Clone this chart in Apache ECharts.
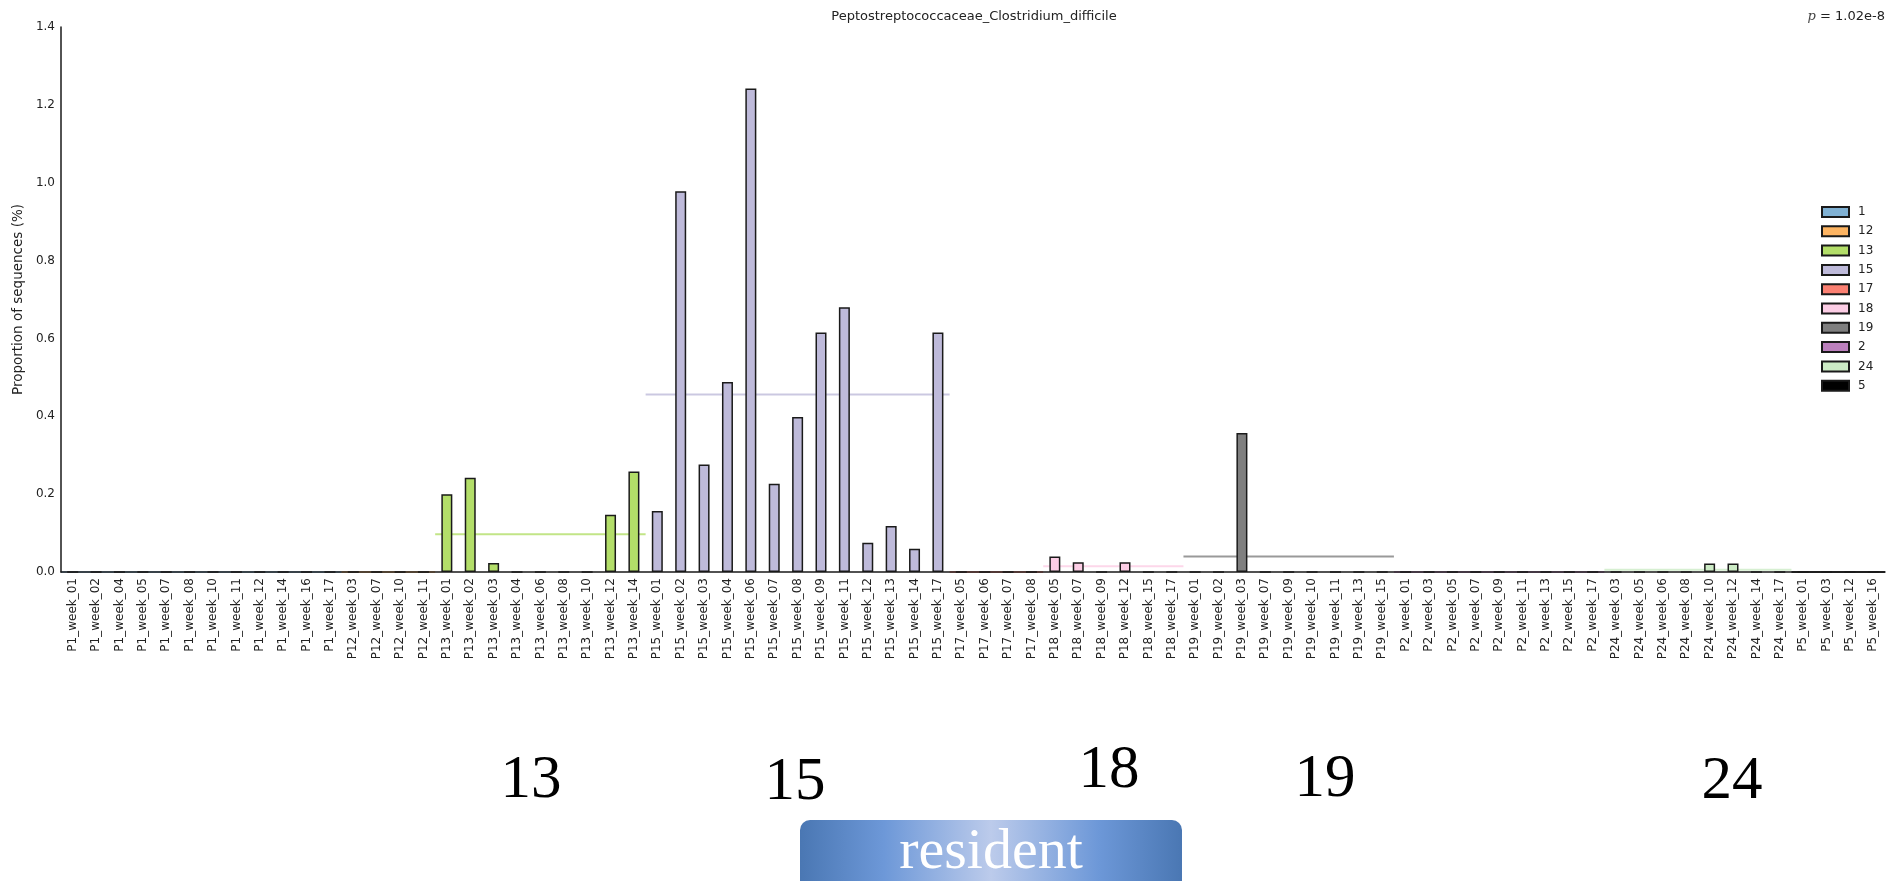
<!DOCTYPE html>
<html>
<head>
<meta charset="utf-8">
<title>Peptostreptococcaceae_Clostridium_difficile</title>
<script src="https://cdn.jsdelivr.net/npm/echarts@6/dist/echarts.min.js"></script>
<style>
  html, body { margin: 0; padding: 0; background: #fff; }
  #chart { width: 1893px; height: 881px; }
</style>
</head>
<body>
<div id="chart"></div>
<script>
// Samples (patient_week), in plotting order
const categories = [
  'P1_week_01','P1_week_02','P1_week_04','P1_week_05','P1_week_07','P1_week_08','P1_week_10','P1_week_11','P1_week_12','P1_week_14','P1_week_16','P1_week_17',
  'P12_week_03','P12_week_07','P12_week_10','P12_week_11',
  'P13_week_01','P13_week_02','P13_week_03','P13_week_04','P13_week_06','P13_week_08','P13_week_10','P13_week_12','P13_week_14',
  'P15_week_01','P15_week_02','P15_week_03','P15_week_04','P15_week_06','P15_week_07','P15_week_08','P15_week_09','P15_week_11','P15_week_12','P15_week_13','P15_week_14','P15_week_17',
  'P17_week_05','P17_week_06','P17_week_07','P17_week_08',
  'P18_week_05','P18_week_07','P18_week_09','P18_week_12','P18_week_15','P18_week_17',
  'P19_week_01','P19_week_02','P19_week_03','P19_week_07','P19_week_09','P19_week_10','P19_week_11','P19_week_13','P19_week_15',
  'P2_week_01','P2_week_03','P2_week_05','P2_week_07','P2_week_09','P2_week_11','P2_week_13','P2_week_15','P2_week_17',
  'P24_week_03','P24_week_05','P24_week_06','P24_week_08','P24_week_10','P24_week_12','P24_week_14','P24_week_17',
  'P5_week_01','P5_week_03','P5_week_12','P5_week_16'
];

// Proportion of sequences (%) per sample
const values = [
  0,0,0,0,0,0,0,0,0,0,0,0,
  0,0,0,0,
  0.200,0.242,0.023,0,0,0,0,0.147,0.258,
  0.157,0.978,0.276,0.488,1.242,0.227,0.398,0.615,0.680,0.075,0.118,0.060,0.615,
  0,0,0,0,
  0.040,0.025,0,0.025,0,0,
  0,0,0.357,0,0,0,0,0,0,
  0,0,0,0,0,0,0,0,0,
  0,0,0,0,0.022,0.022,0,0,
  0,0,0,0
];

// Patient groups (legend order) and their colours
const groupNames  = ['1','12','13','15','17','18','19','2','24','5'];
const groupColors = ['#80b1d3','#fdb462','#b3de69','#bebada','#fb8072','#fccde5','#7f7f7f','#bc80bd','#ccebc5','#000000'];

// Tick values of the y axis
const yTicks = [0, 0.2, 0.4, 0.6, 0.8, 1.0, 1.2, 1.4];

// Group annotations below the axis
const groupTags = ['13', '15', '18', '19', '24'];
const tagText = 'resident';
const pText = '1.02e-8';

const groupOf = categories.map(c => c.split('_')[0].slice(1));

function hexAlpha(hex, a) {
  const n = parseInt(hex.slice(1), 16);
  return 'rgba(' + ((n >> 16) & 255) + ',' + ((n >> 8) & 255) + ',' + (n & 255) + ',' + a + ')';
}

const barSeries = groupNames.map((g, gi) => ({
  name: g,
  type: 'bar',
  xAxisIndex: 0,
  yAxisIndex: 0,
  barWidth: 11,
  barGap: '-100%',
  itemStyle: { color: groupColors[gi], borderColor: '#1a1a1a', borderWidth: 1.5 },
  data: values.map((v, i) => (groupOf[i] === g ? v : '-')),
  z: 3
}));

// Group mean, drawn across the span of the group's samples
const meanSeries = groupNames.map((g, gi) => {
  const idx = groupOf.map((x, i) => (x === g ? i : -1)).filter(i => i >= 0);
  const mean = idx.reduce((s, i) => s + values[i], 0) / idx.length;
  return {
    name: 'mean_' + g,
    type: 'line',
    xAxisIndex: 1,
    yAxisIndex: 0,
    showSymbol: false,
    silent: true,
    lineStyle: { color: hexAlpha(groupColors[gi], 0.8), width: 2 },
    data: [[idx[0], mean], [idx[idx.length - 1] + 1, mean]],
    z: 1
  };
});

const gridLeft = 61, gridRight = 8, gridTop = 27, gridBottom = 309;

// Centre points of the group annotations
const tagPos = [
  { x: 531, y: 781 }, { x: 795, y: 783 }, { x: 1109, y: 771 }, { x: 1325, y: 780 }, { x: 1732, y: 782 }
];

const chart = echarts.init(document.getElementById('chart'), null, { renderer: 'canvas' });
chart.setOption({
  animation: false,
  backgroundColor: '#ffffff',
  textStyle: { fontFamily: 'DejaVu Sans' },
  title: {
    text: 'Peptostreptococcaceae_Clostridium_difficile',
    left: 969,
    top: 5,
    textAlign: 'center',
    textStyle: { fontFamily: 'DejaVu Sans', fontSize: 13, fontWeight: 'normal', color: '#222' }
  },
  legend: {
    data: groupNames,
    orient: 'vertical',
    left: 1816,
    top: 201,
    itemWidth: 27,
    itemHeight: 10,
    itemGap: 7.3,
    icon: 'rect',
    selectedMode: false,
    textStyle: { fontFamily: 'DejaVu Sans', fontSize: 12, color: '#222', padding: [0, 0, 0, 4] }
  },
  grid: { left: gridLeft, right: gridRight, top: gridTop, bottom: gridBottom, containLabel: false },
  xAxis: [
    {
      type: 'category',
      data: categories,
      boundaryGap: true,
      z: 10,
      axisLine: { show: true, lineStyle: { color: '#1a1a1a', width: 1.5 } },
      axisTick: { show: false },
      axisLabel: {
        interval: 0,
        rotate: 90,
        margin: 6,
        fontFamily: 'DejaVu Sans',
        fontSize: 12,
        color: '#222'
      },
      splitLine: { show: false }
    },
    {
      type: 'value',
      min: 0,
      max: categories.length,
      show: false,
      splitLine: { show: false }
    }
  ],
  yAxis: {
    type: 'value',
    min: yTicks[0],
    max: yTicks[yTicks.length - 1],
    interval: 0.2,
    z: 10,
    axisLine: { show: true, lineStyle: { color: '#1a1a1a', width: 1.5 } },
    axisTick: { show: false },
    splitLine: { show: false },
    axisLabel: {
      margin: 6,
      fontFamily: 'DejaVu Sans',
      fontSize: 12,
      color: '#222',
      formatter: v => v.toFixed(1)
    },
    name: 'Proportion of sequences (%)',
    nameLocation: 'middle',
    nameGap: 32,
    nameRotate: 90,
    nameTextStyle: { fontFamily: 'DejaVu Sans', fontSize: 13.5, color: '#222' }
  },
  series: barSeries.concat(meanSeries),
  graphic: [
    {
      type: 'text',
      right: 8,
      top: 10,
      style: {
        text: '{i|p} = ' + pText,
        rich: {
          i: { fontFamily: 'DejaVu Serif', fontStyle: 'italic', fontSize: 13, fill: '#444' }
        },
        fontFamily: 'DejaVu Sans',
        fontSize: 13,
        fill: '#222'
      }
    }
  ].concat(groupTags.map((t, i) => ({
    type: 'text',
    x: tagPos[i].x,
    y: tagPos[i].y,
    style: {
      text: t,
      fontFamily: 'Liberation Serif',
      fontSize: 61,
      fill: '#000',
      align: 'center',
      verticalAlign: 'middle'
    }
  }))).concat([
    {
      type: 'rect',
      shape: { x: 800, y: 820, width: 382, height: 80, r: [10, 10, 0, 0] },
      style: {
        fill: new echarts.graphic.LinearGradient(0, 0, 1, 0, [
          { offset: 0, color: '#4a77b3' },
          { offset: 0.22, color: '#6d98d8' },
          { offset: 0.5, color: '#bccbeb' },
          { offset: 0.78, color: '#6d98d8' },
          { offset: 1, color: '#4a77b3' }
        ])
      }
    },
    {
      type: 'text',
      x: 991,
      y: 853,
      style: {
        text: tagText,
        fontFamily: 'Liberation Serif',
        fontSize: 58,
        fill: '#ffffff',
        align: 'center',
        verticalAlign: 'middle'
      }
    }
  ])
});
</script>
</body>
</html>
